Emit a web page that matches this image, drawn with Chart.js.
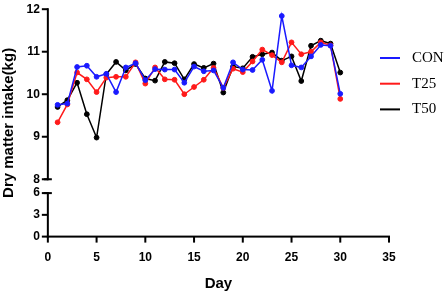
<!DOCTYPE html>
<html>
<head>
<meta charset="utf-8">
<script src="https://cdn.jsdelivr.net/npm/chart.js@4.4.1/dist/chart.umd.min.js"></script>
<style>
  html, body { margin: 0; padding: 0; background: #fff; }
  #box { width: 446px; height: 293px; }
</style>
</head>
<body>
<div id="box"><canvas id="chartDmi"></canvas></div>
<script>
// dias e consumo de materia seca (kg)
var dias = [1, 2, 3, 4, 5, 6, 7, 8, 9, 10, 11, 12, 13, 14, 15, 16, 17, 18, 19, 20, 21, 22, 23, 24, 25, 26, 27, 28, 29, 30]
var nomesGrupos = ['CON', 'T25', 'T50']
var coresGrupos = ['#1a1aff', '#ff1a1a', '#000000']

var valoresCON = [9.75, 9.78, 10.64, 10.67, 10.41, 10.48, 10.05, 10.63, 10.73, 10.33,
    10.59, 10.58, 10.58, 10.27, 10.65, 10.54, 10.56, 10.15, 10.75, 10.58,
    10.57, 10.81, 10.08, 11.84, 10.68, 10.63, 10.89, 11.16, 11.14, 10.01]
var valoresT25 = [9.34, 9.76, 10.51, 10.35, 10.05, 10.39, 10.41, 10.41, 10.75, 10.25,
    10.63, 10.35, 10.34, 10.00, 10.17, 10.34, 10.62, 10.15, 10.60, 10.52,
    10.77, 11.05, 10.92, 10.75, 11.22, 10.94, 11.00, 11.22, 11.15, 9.89]
var valoresT50 = [9.70, 9.86, 10.27, 9.53, 8.98, 10.47, 10.76, 10.56, 10.71, 10.37,
    10.32, 10.76, 10.73, 10.35, 10.71, 10.62, 10.72, 10.04, 10.65, 10.61,
    10.88, 10.94, 10.98, 10.79, 10.89, 10.31, 11.14, 11.26, 11.19, 10.51]

var ticksX = [0, 5, 10, 15, 20, 25, 30, 35]
var ticksYAlto = [8, 9, 10, 11, 12]
var ticksYBaixo = [0, 3, 6]

var tituloX = 'Day'
var tituloY = 'Dry matter intake(kg)'

function montarSerie(valores) {
    var pontos = []
    for (let i = 0; i < dias.length; i++) {
        pontos.push({ x: dias[i], y: valores[i] })
    }
    return pontos
}

var todasSeries = [valoresCON, valoresT25, valoresT50]
var datasets = []
for (let i = 0; i < nomesGrupos.length; i++) {
    datasets.push({
        label: nomesGrupos[i],
        data: montarSerie(todasSeries[i]),
        borderColor: coresGrupos[i],
        backgroundColor: coresGrupos[i],
        borderWidth: 1.5,
        pointRadius: 2.4,
        pointHoverRadius: 2.4,
        pointBorderWidth: 1,
        pointBorderColor: coresGrupos[i],
        tension: 0,
        yAxisID: 'y'
    })
}

function fonteTicks() {
    return { family: 'Liberation Sans, Arial, sans-serif', size: 12, weight: 'bold' }
}

// grade invisivel, so para reservar o espaco das marcas
function gradeVazia() {
    return { display: true, drawOnChartArea: false, drawTicks: true, tickLength: 6, color: 'rgba(0,0,0,0)' }
}

function ticksFixos(lista) {
    return function (scale) {
        scale.ticks = lista.map(function (v) { return { value: v } })
    }
}

// eixos (linhas e marcas) desenhados a partir das escalas, legenda e titulo do eixo y
var extras = {
    id: 'extras',
    afterDraw: function (chart) {
        var ctx = chart.ctx
        var sx = chart.scales.x
        var yAlto = chart.scales.y
        var yBaixo = chart.scales.yBaixo
        var esq = chart.chartArea.left
        var base = yBaixo.getPixelForValue(0)

        ctx.save()
        ctx.fillStyle = '#000'
        // linha do eixo x e marcas
        ctx.fillRect(esq - 1, base - 1, sx.getPixelForValue(35) - esq + 2, 2)
        for (let i = 0; i < ticksX.length; i++) {
            var px = sx.getPixelForValue(ticksX[i])
            ctx.fillRect(px - 1, base, 2, 6)
        }
        // parte de cima do eixo y
        var topo = yAlto.getPixelForValue(12)
        var y8 = yAlto.getPixelForValue(8)
        ctx.fillRect(esq - 1, topo - 1, 2, y8 - topo + 2)
        for (let i = 0; i < ticksYAlto.length; i++) {
            var py = yAlto.getPixelForValue(ticksYAlto[i])
            ctx.fillRect(esq - 6, py - 1, 6, 2)
        }
        ctx.fillRect(esq - 4, y8 - 1, 8, 2)
        // parte de baixo do eixo y
        var y6 = yBaixo.getPixelForValue(6)
        ctx.fillRect(esq - 1, y6 - 1, 2, base - y6 + 2)
        for (let i = 0; i < ticksYBaixo.length; i++) {
            var pb = yBaixo.getPixelForValue(ticksYBaixo[i])
            ctx.fillRect(esq - 6, pb - 1, 6, 2)
        }
        ctx.fillRect(esq - 4, y6 - 1, 8, 2)

        ctx.font = 'bold 15px "Liberation Sans", Arial, sans-serif'
        ctx.textAlign = 'center'
        ctx.textBaseline = 'middle'
        ctx.translate(9, (topo + base) / 2)
        ctx.rotate(-Math.PI / 2)
        ctx.fillText(tituloY, 0, 0)
        ctx.restore()

        ctx.save()
        ctx.font = '15px "Liberation Serif", "Times New Roman", serif'
        ctx.textAlign = 'left'
        ctx.textBaseline = 'middle'
        for (let i = 0; i < chart.data.datasets.length; i++) {
            var ds = chart.data.datasets[i]
            var yy = 58 + i * 25.7
            ctx.fillStyle = ds.borderColor
            ctx.fillRect(380, yy - 1, 20, 2)
            ctx.fillStyle = '#000'
            ctx.fillText(ds.label, 412, yy)
        }
        ctx.restore()
    }
}

var graficoDmi = new Chart(document.getElementById('chartDmi'), {
    type: 'line',
    data: { datasets: datasets },
    options: {
        responsive: true,
        maintainAspectRatio: false,
        animation: false,
        layout: { padding: { left: 24.5, right: 57, top: -2, bottom: 0 } },
        plugins: {
            legend: { display: false },
            tooltip: { enabled: false }
        },
        scales: {
            x: {
                type: 'linear',
                min: 0,
                max: 35,
                afterBuildTicks: ticksFixos(ticksX),
                ticks: { color: '#000', font: fonteTicks(), padding: 8, maxRotation: 0, autoSkip: false },
                grid: gradeVazia(),
                border: { display: false },
                title: {
                    display: true,
                    text: tituloX,
                    color: '#000',
                    font: { family: 'Liberation Sans, Arial, sans-serif', size: 15, weight: 'bold' },
                    padding: { top: 2, bottom: 0 }
                }
            },
            yBaixo: {
                type: 'linear',
                position: 'left',
                stack: 'eixoY',
                stackWeight: 44,
                min: 0,
                max: 6,
                afterBuildTicks: ticksFixos(ticksYBaixo),
                ticks: { color: '#000', font: fonteTicks(), padding: 2, autoSkip: false },
                grid: gradeVazia(),
                border: { display: false }
            },
            yVazio: {
                type: 'linear',
                position: 'left',
                stack: 'eixoY',
                stackWeight: 14,
                ticks: { display: false },
                grid: { display: false },
                border: { display: false }
            },
            y: {
                type: 'linear',
                position: 'left',
                stack: 'eixoY',
                stackWeight: 172,
                min: 8,
                max: 12,
                afterBuildTicks: ticksFixos(ticksYAlto),
                ticks: { color: '#000', font: fonteTicks(), padding: 2, autoSkip: false },
                grid: gradeVazia(),
                border: { display: false }
            }
        }
    },
    plugins: [extras]
});
</script>
</body>
</html>
